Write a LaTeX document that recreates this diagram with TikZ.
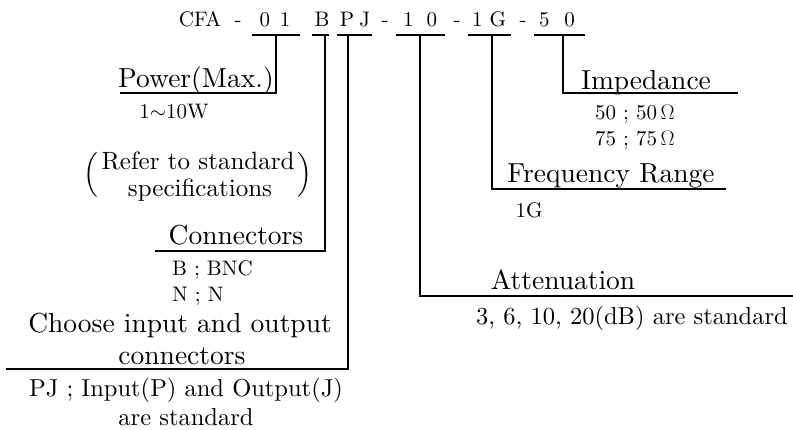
\documentclass[tikz,border=0pt]{standalone}
\usepackage{fix-cm}
\usepackage{amsmath}
\usepackage{fontspec}
\setmainfont{lmroman10-regular.otf}
\tikzset{
  big/.style={inner sep=0pt, anchor=base, font=\fontsize{27.5}{33}\selectfont},
  mid/.style={inner sep=0pt, anchor=base, font=\fontsize{24.5}{29}\selectfont},
  ref/.style={inner sep=0pt, anchor=base, font=\fontsize{25}{29}\selectfont},
  small/.style={inner sep=0pt, anchor=base, font=\fontsize{21}{25}\selectfont},
  code/.style={inner sep=0pt, anchor=base, font=\fontsize{21}{25}\selectfont},
  lead/.style={line width=1.4pt}
}

\begin{document}
\begin{tikzpicture}[x=1pt, y=-1pt]
      \useasboundingbox (0,0) rectangle (793,430);
      \def\cy{27}
      \def\uy{35}

      % Model code
      \node[code] (cfa) at (200,\cy) {CFA};
      \node[code] (dA) at (238,\cy) {-};
      \node[code] (p01) at (275,\cy) {0\hspace{10pt}1};
      \node[code] (pB) at (322,\cy) {B};
      \node[code] (pPJ) at (355,\cy) {P\hspace{5pt}J};
      \node[code] (dB) at (385,\cy) {-};
      \node[code] (p10) at (420,\cy) {1\hspace{13pt}0};
      \node[code] (dC) at (457,\cy) {-};
      \node[code] (p1G) at (489,\cy) {1\hspace{7pt}G};
      \node[code] (dD) at (523,\cy) {-};
      \node[code] (p50) at (557,\cy) {5\hspace{15pt}0};

      % Underlines
      \foreach \a/\b in {252/300, 312/329, 337/372, 396/445, 468/511, 534/585}
        \draw[lead] (\a,\uy) -- (\b,\uy);

      % Lead line ends
      \coordinate (t01) at (276,\uy);
      \coordinate (tB) at (325,\uy);
      \coordinate (tPJ) at (348,\uy);
      \coordinate (t10) at (420,\uy);
      \coordinate (t1G) at (492,\uy);
      \coordinate (t50) at (563,\uy);
      \coordinate (e01) at (120,93);
      \coordinate (eB) at (155,251);
      \coordinate (ePJ) at (6,369);
      \coordinate (e10) at (793,296);
      \coordinate (e1G) at (726,189);
      \coordinate (e50) at (738,93);

      \draw[lead] (t01) |- (e01);
      \draw[lead] (tB) |- (eB);
      \draw[lead] (tPJ) |- (ePJ);
      \draw[lead] (t10) |- (e10);
      \draw[lead] (t1G) |- (e1G);
      \draw[lead] (t50) |- (e50);

      % Power
      \node[big] (power) at (196,88) {Power(Max.)};
      \node[small] (powerval) at (174,119) {1$\sim$10W};
      \node[ref] (refA) at (198,170) {Refer to standard};
      \node[ref] (refB) at (200,197) {specifications};
      \node[ref, anchor=center] (lpar) at (91,175) {$\Big($};
      \node[ref, anchor=center] (rpar) at (305,175) {$\Big)$};

      % Connectors
      \node[big] (conn) at (236,245) {Connectors};
      \node[small, anchor=base west] (connB) at (172,276) {B ; BNC};
      \node[small, anchor=base west] (connN) at (172,302) {N ; N};
      \node[big] (chooseA) at (180,333) {Choose input and output};
      \node[big] (chooseB) at (182,365) {connectors};
      \node[mid] (pjA) at (186,397) {PJ ; Input(P) and Output(J)};
      \node[mid] (pjB) at (186,425) {are standard};

      % Attenuation
      \node[big] (att) at (563,290) {Attenuation};
      \node[mid] (attval) at (632,325) {3, 6, 10, 20(dB) are standard};

      % Frequency range
      \node[big] (freq) at (611,183) {Frequency Range};
      \node[small] (freqval) at (529,218) {1G};

      % Impedance
      \node[big] (imp) at (646,90) {Impedance};
      \node[small, anchor=base west] (impA) at (595,120) {50 ; 50\,$\Omega$};
      \node[small, anchor=base west] (impB) at (595,146) {75 ; 75\,$\Omega$};
    \end{tikzpicture}
\end{document}
